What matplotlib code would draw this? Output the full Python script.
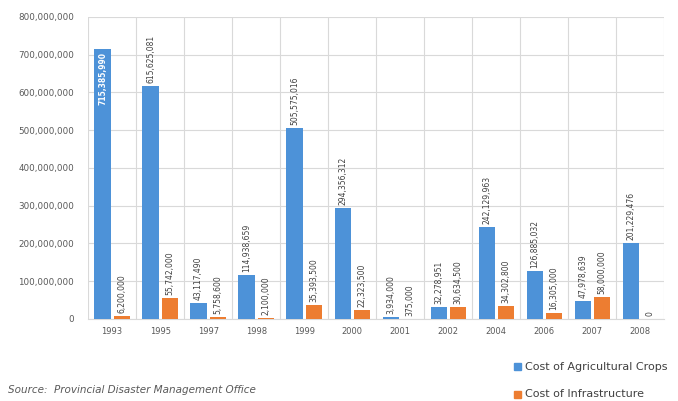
import matplotlib.pyplot as plt
import matplotlib.ticker as mticker
import numpy as np

years = ['1993', '1995', '1997', '1998', '1999', '2000', '2001', '2002',
         '2004', '2006', '2007', '2008']
agri = [715385990, 615625081, 43117490, 114938659, 505575016, 294356312,
        3934000, 32278951, 242129963, 126885032, 47978639, 201229476]
infra = [6200000, 55742000, 5758600, 2100000, 35393500, 22323500,
         375000, 30634500, 34302800, 16305000, 58000000, 0]

blue = '#4d92d8'
orange = '#ed7d31'
txt = '#404040'

fig = plt.figure(figsize=(6.78, 4.01), dpi=100, facecolor='white')
ax = fig.add_axes([0.13, 0.205, 0.85, 0.753])

x = np.arange(len(years))
w = 0.34
ax.bar(x - 0.2, agri, w, color=blue, zorder=3)
ax.bar(x + 0.2, infra, w, color=orange, zorder=3)

# rotated value labels
for i, (a, b) in enumerate(zip(agri, infra)):
    if i == 0:
        ax.text(i - 0.2, a - 8e6, f'{a:,}', rotation=90, ha='center', va='top',
                fontsize=5.5, color='white', fontweight='bold', zorder=4)
    else:
        ax.text(i - 0.2, a + 8e6, f'{a:,}', rotation=90, ha='center', va='bottom',
                fontsize=5.5, color=txt, zorder=4)
    ax.text(i + 0.2, b + 8e6, f'{b:,}', rotation=90, ha='center', va='bottom',
            fontsize=5.5, color=txt, zorder=4)

ax.set_xlim(-0.5, len(years) - 0.5)
ax.set_ylim(0, 800e6)
ax.set_xticks(x)
ax.set_xticklabels(years, fontsize=6, color='#595959')
ax.set_yticks(np.arange(0, 800e6 + 1, 100e6))
ax.yaxis.set_major_formatter(mticker.FuncFormatter(lambda v, p: f'{int(v):,}'))
ax.tick_params(axis='y', labelsize=6.3, colors='#595959', length=0, pad=10)
ax.tick_params(axis='x', length=0, pad=6)

ax.set_xticks(np.arange(-0.5, len(years), 1), minor=True)
ax.tick_params(axis='x', which='minor', length=0)
ax.grid(axis='y', color='#d9d9d9', lw=0.8, zorder=0)
ax.grid(axis='x', which='minor', color='#d9d9d9', lw=0.8, zorder=0)
ax.grid(axis='x', which='major', visible=False)
for s in ax.spines.values():
    s.set_visible(False)
ax.spines['bottom'].set_visible(True)
ax.spines['bottom'].set_color('#d9d9d9')

# legend (stacked, bottom right)
fig.patches.append(plt.Rectangle((0.758, 0.077), 0.011, 0.018, color=blue,
                                 transform=fig.transFigure, figure=fig))
fig.text(0.774, 0.086, 'Cost of Agricultural Crops', fontsize=8, color=txt, va='center')
fig.patches.append(plt.Rectangle((0.758, 0.008), 0.011, 0.018, color=orange,
                                 transform=fig.transFigure, figure=fig))
fig.text(0.774, 0.017, 'Cost of Infrastructure', fontsize=8, color=txt, va='center')

fig.text(0.012, 0.027, 'Source:  Provincial Disaster Management Office',
         fontsize=7.5, style='italic', color='#595959', va='center')

plt.savefig('out.png', dpi=100, facecolor='white')
